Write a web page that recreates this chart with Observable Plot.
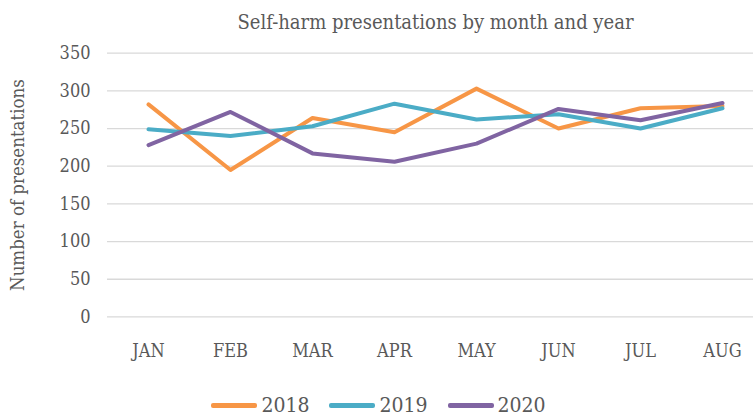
<!DOCTYPE html>
<html>
<head>
<meta charset="utf-8">
<script src="https://cdn.jsdelivr.net/npm/d3@7"></script>
<script src="https://cdn.jsdelivr.net/npm/@observablehq/plot@0.6"></script>
<style>
  body { margin: 0; background: #fff; font-family: "DejaVu Serif Condensed", "DejaVu Serif", serif; color: #595959; }
  #wrap { width: 753px; height: 416px; position: relative; overflow: hidden; }
  #title { position: absolute; left: 0; top: 9px; width: 753px; padding-left: 118px; box-sizing: border-box; text-align: center; font-size: 20px; line-height: 26px; }
  #chart { position: absolute; left: 0; top: 40px; }
  #legend { position: absolute; left: 0; top: 393px; width: 753px; display: flex; justify-content: center; gap: 20px; padding-left: 4px; box-sizing: border-box; font-size: 21px; line-height: 24px; }
  .item { display: flex; align-items: center; }
  .sw { width: 46px; height: 5px; border-radius: 2px; margin-right: 4px; }
</style>
</head>
<body>
<div id="wrap">
  <div id="title">Self-harm presentations by month and year</div>
  <div id="chart"></div>
  <div id="legend"></div>
</div>
<script>
const months = ["JAN", "FEB", "MAR", "APR", "MAY", "JUN", "JUL", "AUG"];
const series = ["2018", "2019", "2020"];
const values2018 = [282, 195, 264, 245, 303, 250, 277, 280];
const values2019 = [249, 240, 253, 283, 262, 269, 250, 277];
const values2020 = [228, 272, 217, 206, 230, 276, 261, 284];
const yTicks = [0, 50, 100, 150, 200, 250, 300, 350];
const colors = ["#F79646", "#4BACC6", "#8064A2"];

const allValues = [values2018, values2019, values2020];
const data = [];
series.forEach((s, i) => months.forEach((m, j) => data.push({month: m, year: s, value: allValues[i][j]})));

const font = "DejaVu Serif Condensed, DejaVu Serif, serif";
const chart = Plot.plot({
  width: 753,
  height: 335,
  marginTop: 12.7,
  marginBottom: 58.6,
  marginLeft: 107,
  marginRight: 0,
  style: { fontFamily: font, fontSize: "18px", color: "#595959", background: "transparent", overflow: "visible" },
  x: { type: "point", domain: months, range: [147.7, 722.3], padding: 0, label: null },
  y: { domain: [0, 350], label: null, ticks: yTicks },
  color: { domain: series, range: colors },
  marks: [
    Plot.ruleY(yTicks, { stroke: "#d9d9d9", strokeWidth: 1.3 }),
    Plot.axisY({ ticks: yTicks, tickSize: 0, tickPadding: 17, label: null, fontSize: 18 }),
    Plot.axisX({ tickSize: 0, tickPadding: 27, label: null, fontSize: 18 }),
    Plot.text(["Number of presentations"], { frameAnchor: "left", textAnchor: "middle", dx: -89, rotate: -90, fontSize: 18.5, fill: "#595959" }),
    Plot.line(data, { x: "month", y: "value", z: "year", stroke: "year", strokeWidth: 4, strokeLinejoin: "round", strokeLinecap: "round" })
  ]
});
document.getElementById("chart").appendChild(chart);

const legend = document.getElementById("legend");
series.forEach((s, i) => {
  const it = document.createElement("div");
  it.className = "item";
  const sw = document.createElement("div");
  sw.className = "sw";
  sw.style.background = colors[i];
  const t = document.createElement("span");
  t.textContent = s;
  it.appendChild(sw); it.appendChild(t);
  legend.appendChild(it);
});
</script>
</body>
</html>
